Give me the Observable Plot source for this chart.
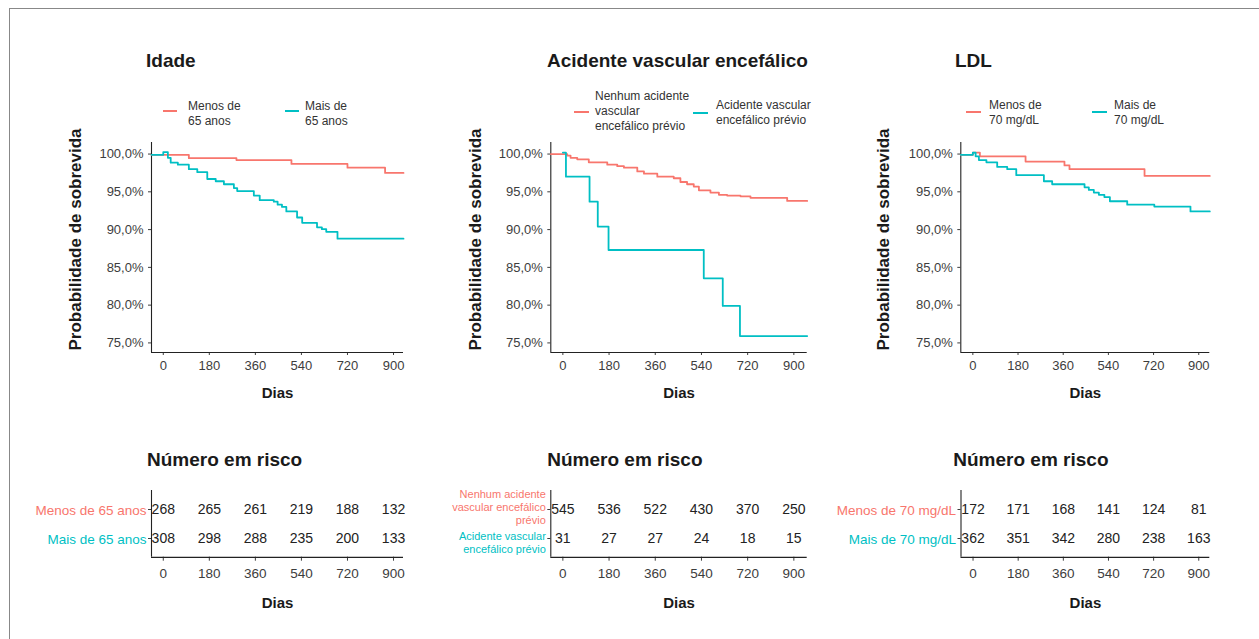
<!DOCTYPE html>
<html>
<head>
<meta charset="utf-8">
<script src="https://cdn.jsdelivr.net/npm/d3@7"></script>
<script src="https://cdn.jsdelivr.net/npm/@observablehq/plot@0.6"></script>
<style>
  html, body { margin: 0; padding: 0; background: #fff; }
  #root { position: relative; width: 1259px; height: 639px; overflow: hidden; font-family: "Liberation Sans", Arial, Helvetica, sans-serif; }
  .abs { position: absolute; }
  .title { position: absolute; font-weight: bold; font-size: 19px; line-height: 19px; color: #1a1a1a; white-space: nowrap; }
  .legtext { position: absolute; font-size: 12px; line-height: 15px; color: #333; white-space: nowrap; }
  .sw { position: absolute; height: 2px; }
  #frame { position: absolute; left: 9px; top: 8px; width: 1260px; height: 640px; border-top: 1px solid #888; border-left: 1px solid #888; }
</style>
</head>
<body>
<div id="root"><div id="frame"></div></div>
<script>
// ---------- data ----------
const red = "#F8766D", teal = "#00BFC4";
const tickDays = [0, 180, 360, 540, 720, 900];
const yTicks = [75, 80, 85, 90, 95, 100];

// Idade
const idadeGroups = ["Menos de 65 anos", "Mais de 65 anos"];
const idadeMenosT = [-46, 0, 100, 286, 501, 720, 867, 939];
const idadeMenosS = [99.9, 99.9, 99.45, 99.2, 98.7, 98.2, 97.5, 97.5];
const idadeMaisT = [-46, 0, 18, 29, 57, 100, 133, 172, 205, 237, 276, 289, 354, 377, 432, 447, 464, 481, 523, 543, 601, 620, 637, 681, 939];
const idadeMaisS = [99.9, 100.25, 99.5, 98.86, 98.6, 98.0, 97.6, 96.7, 96.4, 96.0, 95.5, 95.1, 94.5, 93.9, 93.7, 93.3, 93.0, 92.4, 91.6, 90.9, 90.3, 90.05, 89.7, 88.8, 88.8];
const idadeRiscoMenos = [268, 265, 261, 219, 188, 132];
const idadeRiscoMais = [308, 298, 288, 235, 200, 133];

// Acidente vascular encefálico
const aveGroups = ["Nenhum acidente vascular encefálico prévio", "Acidente vascular encefálico prévio"];
const aveNenhumT = [-47, 17, 30, 56, 101, 173, 212, 238, 290, 316, 368, 432, 458, 484, 510, 530, 575, 608, 640, 692, 731, 874, 952];
const aveNenhumS = [100, 99.8, 99.5, 99.3, 98.9, 98.6, 98.4, 98.2, 97.7, 97.4, 97.0, 96.8, 96.3, 96.0, 95.7, 95.2, 94.9, 94.6, 94.5, 94.4, 94.2, 93.8, 93.8];
const avePrevioT = [0, 12, 104, 136, 178, 549, 623, 690, 952];
const avePrevioS = [100.2, 97.0, 93.7, 90.4, 87.3, 83.55, 79.9, 75.9, 75.9];
const aveRiscoNenhum = [545, 536, 522, 430, 370, 250];
const aveRiscoPrevio = [31, 27, 27, 24, 18, 15];

// LDL
const ldlGroups = ["Menos de 70 mg/dL", "Mais de 70 mg/dL"];
const ldlMenosT = [-48, 0, 28, 210, 365, 385, 684, 944];
const ldlMenosS = [99.9, 100.2, 99.7, 99.0, 98.5, 98.0, 97.1, 97.1];
const ldlMaisT = [-48, 0, 11, 24, 54, 97, 137, 173, 283, 316, 445, 462, 482, 502, 524, 546, 615, 723, 867, 944];
const ldlMaisS = [99.9, 100.2, 99.7, 99.2, 98.9, 98.3, 98.0, 97.2, 96.4, 96.0, 95.6, 95.25, 94.9, 94.6, 94.3, 93.75, 93.3, 93.05, 92.4, 92.4];
const ldlRiscoMenos = [172, 171, 168, 141, 124, 81];
const ldlRiscoMais = [362, 351, 342, 280, 238, 163];

// ---------- layout ----------
const yDom = [73.73, 101.53];
const root = document.getElementById("root");
const font = '"Liberation Sans", Arial, Helvetica, sans-serif';

function place(el, left, top) {
  const d = document.createElement("div");
  d.className = "abs";
  d.style.left = left + "px";
  d.style.top = top + "px";
  d.appendChild(el);
  root.appendChild(d);
}
function addTitle(text, left, top) {
  const d = document.createElement("div");
  d.className = "title";
  d.style.left = left + "px"; d.style.top = top + "px";
  d.textContent = text;
  root.appendChild(d);
}
function addLegendItem(color, swL, swR, swY, textL, textTop, lines) {
  const s = document.createElement("div");
  s.className = "sw";
  s.style.left = swL + "px"; s.style.width = (swR - swL) + "px"; s.style.top = (swY - 1) + "px";
  s.style.background = color;
  root.appendChild(s);
  const t = document.createElement("div");
  t.className = "legtext";
  t.style.left = textL + "px"; t.style.top = textTop + "px";
  t.innerHTML = lines.join("<br>");
  root.appendChild(t);
}

const fmtPct = d => d.toFixed(1).replace(".", ",") + "%";

function survival(cfg) {
  const rows = [];
  cfg.series.forEach(s => s.t.forEach((t, i) => rows.push({t, s: s.s[i], g: s.name})));
  return Plot.plot({
    width: cfg.w, height: 275,
    marginLeft: cfg.mL, marginRight: cfg.mR, marginTop: 7, marginBottom: 58,
    style: {fontFamily: font, fontSize: "13px", color: "#3d3d3d", background: "transparent", overflow: "visible"},
    x: {domain: cfg.xDom},
    y: {domain: yDom},
    color: {domain: cfg.groups, range: [red, teal]},
    marks: [
      Plot.axisX({ticks: tickDays, tickSize: 3, tickPadding: 5, label: null}),
      Plot.axisY({ticks: yTicks, tickFormat: fmtPct, tickSize: 3, tickPadding: 5, label: null}),
      Plot.ruleX([cfg.xDom[0]], {stroke: "#222", strokeWidth: 1.1}),
      Plot.ruleY([yDom[0]], {stroke: "#222", strokeWidth: 1.1}),
      Plot.line(rows, {x: "t", y: "s", z: "g", stroke: "g", curve: "step-after", strokeWidth: 1.8}),
      Plot.text(["Probabilidade de sobrevida"], {text: d => d, frameAnchor: "left", textAnchor: "middle", lineAnchor: "middle", rotate: -90, dx: -cfg.ylabOff, dy: -8, fontWeight: "bold", fontSize: 17, fill: "#1a1a1a"}),
      Plot.text(["Dias"], {text: d => d, frameAnchor: "bottom", lineAnchor: "middle", dy: 41, fontWeight: "bold", fontSize: 15, fill: "#1a1a1a"})
    ]
  });
}

function risk(cfg) {
  const rows = [];
  cfg.counts.forEach((arr, gi) => arr.forEach((n, i) => rows.push({t: tickDays[i], g: cfg.groups[gi], n})));
  const labelMarks = cfg.groups.map((g, i) => Plot.text([g], {
    y: d => d, text: () => cfg.labels[i], frameAnchor: "left", textAnchor: "end", lineAnchor: "middle",
    dx: -5, dy: cfg.labelDy[i], fill: d => d, fontSize: cfg.labelSize, lineHeight: 1.2
  }));
  const H = 135, mT = 10, mB = 58.3, pad = 0.65;
  const step = (H - mT - mB) / (cfg.groups.length - 1 + 2 * pad);
  return Plot.plot({
    width: cfg.w, height: H,
    marginLeft: cfg.mL, marginRight: cfg.mR, marginTop: mT, marginBottom: mB,
    style: {fontFamily: font, fontSize: "13.5px", color: "#3d3d3d", background: "transparent", overflow: "visible"},
    x: {domain: cfg.xDom},
    y: {type: "point", domain: cfg.groups, padding: pad},
    color: {domain: cfg.groups, range: [red, teal]},
    marks: [
      Plot.axisX({ticks: tickDays, tickSize: 4, tickPadding: 7, label: null}),
      Plot.axisY({tickSize: 3, tickFormat: () => "", label: null}),
      Plot.ruleX([cfg.xDom[0]], {stroke: "#222", strokeWidth: 1.1}),
      Plot.ruleY([cfg.groups[cfg.groups.length - 1]], {dy: pad * step, stroke: "#222", strokeWidth: 1.1}),
      Plot.text(rows, {x: "t", y: "g", text: "n", fill: "#222", fontSize: 14}),
      ...labelMarks,
      Plot.text(["Dias"], {text: d => d, frameAnchor: "bottom", lineAnchor: "middle", dy: 46, fontWeight: "bold", fontSize: 15, fill: "#1a1a1a"})
    ]
  });
}

// survival panels
const p1 = {w: 350, mL: 91, mR: 7, xDom: [-46, 939], ylabOff: 76, groups: idadeGroups,
  series: [{name: idadeGroups[0], t: idadeMenosT, s: idadeMenosS}, {name: idadeGroups[1], t: idadeMaisT, s: idadeMaisS}]};
const p2 = {w: 355, mL: 90.3, mR: 8.3, xDom: [-47, 952], ylabOff: 75.3, groups: aveGroups,
  series: [{name: aveGroups[0], t: aveNenhumT, s: aveNenhumS}, {name: aveGroups[1], t: avePrevioT, s: avePrevioS}]};
const p3 = {w: 355, mL: 100.3, mR: 5.7, xDom: [-48, 944], ylabOff: 77.3, groups: ldlGroups,
  series: [{name: ldlGroups[0], t: ldlMenosT, s: ldlMenosS}, {name: ldlGroups[1], t: ldlMaisT, s: ldlMaisS}]};

place(survival(p1), 60, 135);
place(survival(p2), 460, 135);
place(survival(p3), 860, 135);

// risk tables
place(risk({w: 390, mL: 131, mR: 7, xDom: [-46, 939], groups: idadeGroups, counts: [idadeRiscoMenos, idadeRiscoMais],
  labels: ["Menos de 65 anos", "Mais de 65 anos"], labelSize: 13.5, labelDy: [0, 0]}), 20, 480);
place(risk({w: 375, mL: 110.3, mR: 8.3, xDom: [-47, 952], groups: aveGroups, counts: [aveRiscoNenhum, aveRiscoPrevio],
  labels: ["Nenhum acidente\nvascular encefálico\nprévio", "Acidente vascular\nencefálico prévio"], labelSize: 11, labelDy: [-2.5, 4]}), 440, 480);
place(risk({w: 385, mL: 130.5, mR: 5.7, xDom: [-48, 944], groups: ldlGroups, counts: [ldlRiscoMenos, ldlRiscoMais],
  labels: ["Menos de 70 mg/dL", "Mais de 70 mg/dL"], labelSize: 13.5, labelDy: [0, 0]}), 830, 480);

// titles
addTitle("Idade", 146, 51);
addTitle("Acidente vascular encefálico", 547, 51);
addTitle("LDL", 955, 51);
addTitle("Número em risco", 147, 449.7);
addTitle("Número em risco", 547.3, 449.7);
addTitle("Número em risco", 953.3, 449.7);

// legends
addLegendItem(red, 162.7, 177, 110.7, 188, 99.3, ["Menos de", "65 anos"]);
addLegendItem(teal, 285, 299, 111, 305, 99.3, ["Mais de", "65 anos"]);
addLegendItem(red, 574, 589, 111.7, 595, 89.3, ["Nenhum acidente", "vascular", "encefálico prévio"]);
addLegendItem(teal, 693, 708, 112.7, 716, 98.3, ["Acidente vascular", "encefálico prévio"]);
addLegendItem(red, 966, 981, 111.7, 989, 98.3, ["Menos de", "70 mg/dL"]);
addLegendItem(teal, 1092, 1107, 111.7, 1114, 98.3, ["Mais de", "70 mg/dL"]);
</script>
</body>
</html>
